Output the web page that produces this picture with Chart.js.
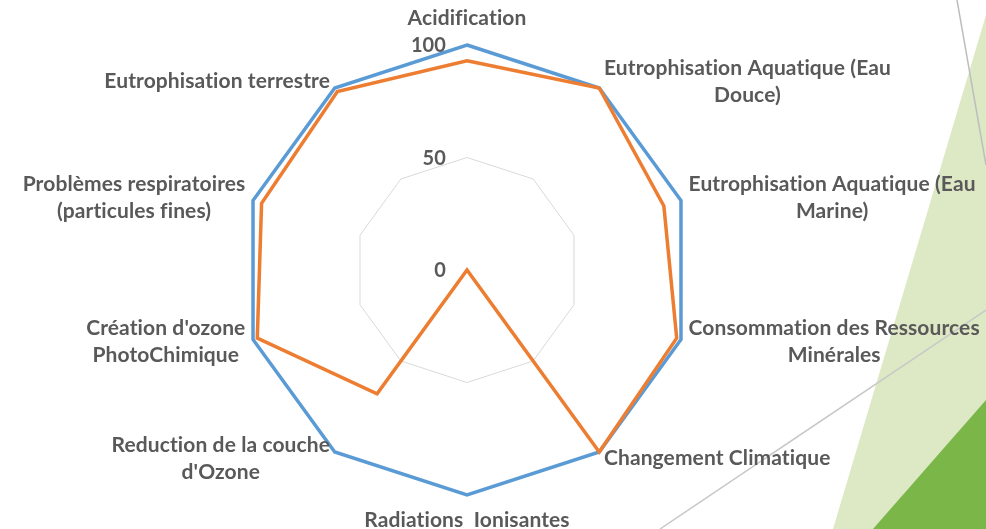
<!DOCTYPE html>
<html>
<head>
<meta charset="utf-8">
<script src="https://cdn.jsdelivr.net/npm/chart.js@4/dist/chart.umd.min.js"></script>
<style>
    html, body { margin: 0; padding: 0; background: #ffffff; }
    #wrap { position: relative; width: 986px; height: 529px; overflow: hidden; }
    #deco, #radar { position: absolute; left: 0; top: 0; }
</style>
</head>
<body>
<div id="wrap">
    <svg id="deco" width="986" height="529">
        <polygon points="986,15 833,529 986,529" fill="#dde9c5"/>
        <polygon points="986,400 873,529 986,529" fill="#7ab648"/>
        <line x1="957" y1="0" x2="986" y2="165" stroke="#bdbdbd" stroke-width="1.5"/>
        <line x1="986" y1="310" x2="660" y2="529" stroke="#c8c8c8" stroke-width="1.5"/>
    </svg>
    <canvas id="radar" width="986" height="529"></canvas>
</div>
<script>
const categories = [
    'Acidification',
    ['Eutrophisation Aquatique (Eau', 'Douce)'],
    ['Eutrophisation Aquatique (Eau', 'Marine)'],
    ['Consommation des Ressources', 'Minérales'],
    'Changement Climatique',
    'Radiations  Ionisantes',
    ['Reduction de la couche', "d'Ozone"],
    ["Création d'ozone", 'PhotoChimique'],
    ['Problèmes respiratoires', '(particules fines)'],
    'Eutrophisation terrestre'
];
const referenceValues = [100, 100, 100, 100, 100, 100, 100, 100, 100, 100];
const scenarioValues = [93, 100, 92, 98, 100, 0, 68, 98, 96, 98];
const tickValues = [0, 50, 100];

const textColor = '#595959';
const labelFont = 'bold 21px Lato';
const tickFont = 'bold 20px Lato';

// point labels and ticks drawn by hand so multi-line labels stay centred like Excel
const labelPlugin = {
    id: 'labelPlugin',
    afterDraw(chart) {
        const scale = chart.scales.r;
        const ctx = chart.ctx;
        const R = scale.drawingArea;
        ctx.save();
        ctx.fillStyle = textColor;
        // small spacing keeps Lato from using its "ti"/"fi" ligatures
        if ('letterSpacing' in ctx) ctx.letterSpacing = '0.1px';

        // ticks
        ctx.font = tickFont;
        ctx.textAlign = 'right';
        ctx.textBaseline = 'middle';
        tickValues.forEach(function(v) {
            const d = scale.getDistanceFromCenterForValue(v);
            ctx.fillText(String(v), scale.xCenter - 21, scale.yCenter - d + 1);
        });

        // category labels
        ctx.font = labelFont;
        const lineH = 27;
        categories.forEach(function(lab, i) {
            const lines = Array.isArray(lab) ? lab : [lab];
            const widths = lines.map(function(l) { return ctx.measureText(l).width; });
            const blockW = Math.max.apply(null, widths);
            const blockH = lines.length * lineH;
            const p = scale.getPointPosition(i, R + 8);
            const dx = p.x - scale.xCenter;
            let cx, top;
            if (Math.abs(dx) < 2) {
                cx = p.x;
                if (p.y < scale.yCenter) {
                    top = scale.yCenter - R - 17 - blockH + 4;
                } else {
                    top = scale.yCenter + R + 12;
                }
            } else {
                cx = dx > 0 ? p.x + blockW / 2 : p.x - blockW / 2;
                top = p.y - blockH / 2;
            }
            ctx.textAlign = 'center';
            ctx.textBaseline = 'middle';
            lines.forEach(function(l, k) {
                ctx.fillText(l, cx, top + lineH * k + lineH / 2);
            });
        });
        ctx.restore();
    }
};

const ctx = document.getElementById('radar').getContext('2d');
const chart = new Chart(ctx, {
    type: 'radar',
    data: {
        labels: categories,
        datasets: [{
            label: 'Scénario',
            data: scenarioValues,
            borderColor: '#ed7d31',
            backgroundColor: 'rgba(0,0,0,0)',
            borderWidth: 3.5,
            pointRadius: 0,
            fill: false
        }, {
            label: 'Référence',
            data: referenceValues,
            borderColor: '#5b9bd5',
            backgroundColor: 'rgba(0,0,0,0)',
            borderWidth: 3.5,
            pointRadius: 0,
            fill: false
        }]
    },
    options: {
        responsive: false,
        animation: false,
        layout: {
            padding: { left: 242, right: 294, top: 45, bottom: 34 }
        },
        plugins: {
            legend: { display: false },
            tooltip: { enabled: false }
        },
        elements: { line: { tension: 0 } },
        scales: {
            r: {
                min: 0,
                max: 100,
                ticks: { display: false, stepSize: 50 },
                pointLabels: { display: false },
                angleLines: { display: false },
                grid: { color: '#d9d9d9', lineWidth: 1 }
            }
        }
    },
    plugins: [labelPlugin]
});
</script>
</body>
</html>
